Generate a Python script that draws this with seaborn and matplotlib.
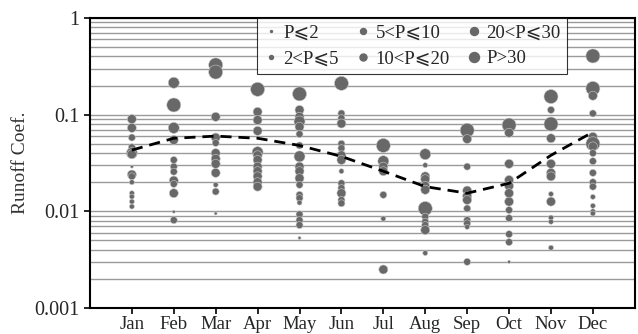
import numpy as np
import pandas as pd
import matplotlib
matplotlib.use('Agg')
import matplotlib.pyplot as plt
from matplotlib.lines import Line2D
import seaborn as sns

months = ['Jan', 'Feb', 'Mar', 'Apr', 'May', 'Jun', 'Jul', 'Aug', 'Sep', 'Oct', 'Nov', 'Dec']
size_labels = ['P⩽2', '2<P⩽5', '5<P⩽10', '10<P⩽20', '20<P⩽30', 'P>30']

# runoff coefficients per month and the rainfall class of each point
jan_vals = [0.090, 0.073, 0.058, 0.046, 0.040, 0.039, 0.029, 0.024, 0.023, 0.020, 0.0154, 0.0142, 0.0126, 0.0112]
jan_cls = [3, 3, 2, 2, 4, 3, 0, 3, 2, 1, 1, 1, 1, 1]
feb_vals = [0.214, 0.126, 0.073, 0.0547, 0.034, 0.029, 0.0257, 0.0208, 0.0192, 0.0154, 0.0099, 0.0081]
feb_cls = [4, 5, 4, 3, 2, 2, 2, 3, 2, 3, 0, 2]
mar_vals = [0.327, 0.276, 0.095, 0.058, 0.051, 0.040, 0.035, 0.031, 0.025, 0.0188, 0.016, 0.0095]
mar_cls = [5, 5, 3, 3, 2, 3, 3, 3, 3, 1, 2, 0]
apr_vals = [0.183, 0.107, 0.088, 0.068, 0.041, 0.038, 0.034, 0.029, 0.026, 0.023, 0.020, 0.018]
apr_cls = [5, 3, 3, 3, 4, 3, 3, 3, 3, 3, 3, 3]
may_vals = [0.164, 0.112, 0.095, 0.085, 0.075, 0.063, 0.048, 0.037, 0.029, 0.026, 0.022, 0.0188,
            0.0148, 0.0137, 0.0123, 0.0093, 0.0081, 0.0072, 0.0053]
may_cls = [5, 3, 3, 4, 3, 2, 2, 4, 3, 3, 3, 2, 2, 2, 1, 2, 2, 2, 0]
jun_vals = [0.211, 0.103, 0.092, 0.081, 0.050, 0.045, 0.038, 0.034, 0.026, 0.0195, 0.0174, 0.0154, 0.0131, 0.0121]
jun_cls = [5, 2, 2, 3, 2, 2, 3, 3, 1, 2, 2, 3, 2, 2]
jul_vals = [0.048, 0.033, 0.029, 0.026, 0.0148, 0.0084, 0.0025]
jul_cls = [5, 4, 3, 3, 2, 1, 3]
aug_vals = [0.039, 0.030, 0.023, 0.0215, 0.0183, 0.0167, 0.0107, 0.0088, 0.0078, 0.0072, 0.0064, 0.0037]
aug_cls = [4, 1, 3, 3, 3, 3, 5, 2, 2, 2, 3, 1]
sep_vals = [0.069, 0.056, 0.029, 0.0164, 0.0144, 0.0131, 0.0107, 0.0081, 0.0075, 0.0069, 0.0030]
sep_cls = [5, 3, 2, 3, 3, 3, 2, 2, 2, 1, 2]
oct_vals = [0.078, 0.065, 0.031, 0.0211, 0.0183, 0.0154, 0.0126, 0.0103, 0.0085, 0.0058, 0.0048, 0.0030]
oct_cls = [5, 3, 3, 3, 3, 3, 3, 2, 2, 2, 2, 0]
nov_vals = [0.154, 0.112, 0.080, 0.057, 0.031, 0.025, 0.023, 0.0151, 0.0126, 0.0086, 0.0078, 0.0042]
nov_cls = [5, 2, 5, 3, 3, 3, 3, 1, 3, 1, 1, 1]
dec_vals = [0.405, 0.187, 0.157, 0.103, 0.059, 0.050, 0.047, 0.040, 0.033, 0.025, 0.020, 0.018,
            0.0141, 0.0114, 0.0100, 0.0095]
dec_cls = [5, 5, 3, 2, 3, 5, 3, 2, 2, 2, 2, 2, 1, 1, 1, 1]

# seasonal trend (dashed)
trend_vals = [0.043, 0.057, 0.060, 0.057, 0.048, 0.037, 0.026, 0.018, 0.0154, 0.0195, 0.038, 0.066]

all_vals = [jan_vals, feb_vals, mar_vals, apr_vals, may_vals, jun_vals,
            jul_vals, aug_vals, sep_vals, oct_vals, nov_vals, dec_vals]
all_cls = [jan_cls, feb_cls, mar_cls, apr_cls, may_cls, jun_cls,
           jul_cls, aug_cls, sep_cls, oct_cls, nov_cls, dec_cls]

rows = []
for i, (vals, cls) in enumerate(zip(all_vals, all_cls)):
    for v, c in zip(vals, cls):
        rows.append({'month': i + 1, 'coef': v, 'cls': size_labels[c]})
df = pd.DataFrame(rows)
trend = pd.DataFrame({'month': np.arange(1, 13), 'coef': trend_vals})

sns.set_style('white')
plt.rcParams['font.family'] = ['Liberation Serif', 'DejaVu Sans']

# marker diameters in pixels -> scatter areas in pt^2 (dpi 100)
diam_px = [3, 5, 7, 9, 11, 14]
sizes = {lab: (d * 0.72) ** 2 for lab, d in zip(size_labels, diam_px)}

fig = plt.figure(figsize=(6.38, 3.34), dpi=100)
ax = fig.add_axes([0.141, 0.078, 0.854, 0.868])
ax.set_yscale('log')

sns.scatterplot(data=df, x='month', y='coef', size='cls', sizes=sizes, size_order=size_labels,
                color='#686868', edgecolor='#c8c8c8', linewidth=0.4, legend=False, ax=ax, zorder=3)
sns.lineplot(data=trend, x='month', y='coef', color='black', lw=2, ax=ax, zorder=4,
             dashes=False, linestyle=(0, (4, 2.5)))

ax.set_xlim(0, 13)
ax.set_ylim(0.001, 1)
ax.set_xticks(np.arange(1, 13))
ax.set_xticklabels(months)
ax.set_yticks([0.001, 0.01, 0.1, 1])
ax.set_yticklabels(['0.001', '0.01', '0.1', '1'])
ax.yaxis.set_minor_formatter(matplotlib.ticker.NullFormatter())
ax.yaxis.grid(True, which='both', color='#9a9a9a', lw=1)
ax.set_axisbelow(True)
ax.tick_params(axis='both', which='major', direction='out', length=4, width=1.2,
               labelsize=13.5, color='black', left=True, bottom=True)
ax.tick_params(axis='y', which='minor', length=0)
ax.tick_params(axis='y', labelsize=14.5)
ax.tick_params(axis='x', pad=2)
ax.set_xlabel('')
ax.set_ylabel('Runoff Coef.', fontsize=14, color='#333333', labelpad=4)
for sp in ax.spines.values():
    sp.set_color('black')
    sp.set_linewidth(1.5)

leg_px = [2, 4, 6, 7, 8, 10]
handles = [Line2D([], [], marker='o', ls='none', color='#686868', markersize=d * 0.72)
           for d in leg_px]
leg = ax.legend(handles, size_labels, ncol=3, loc='upper left', bbox_to_anchor=(0.307, 1.0),
                frameon=True, fancybox=False, fontsize=13.5, handletextpad=0.25, columnspacing=0.9,
                borderpad=0.35, labelspacing=0.45, handlelength=0.8, borderaxespad=0)
leg.get_frame().set_edgecolor('black')
leg.get_frame().set_linewidth(0.8)
leg.set_zorder(5)

fig.savefig('out.png', dpi=100)
